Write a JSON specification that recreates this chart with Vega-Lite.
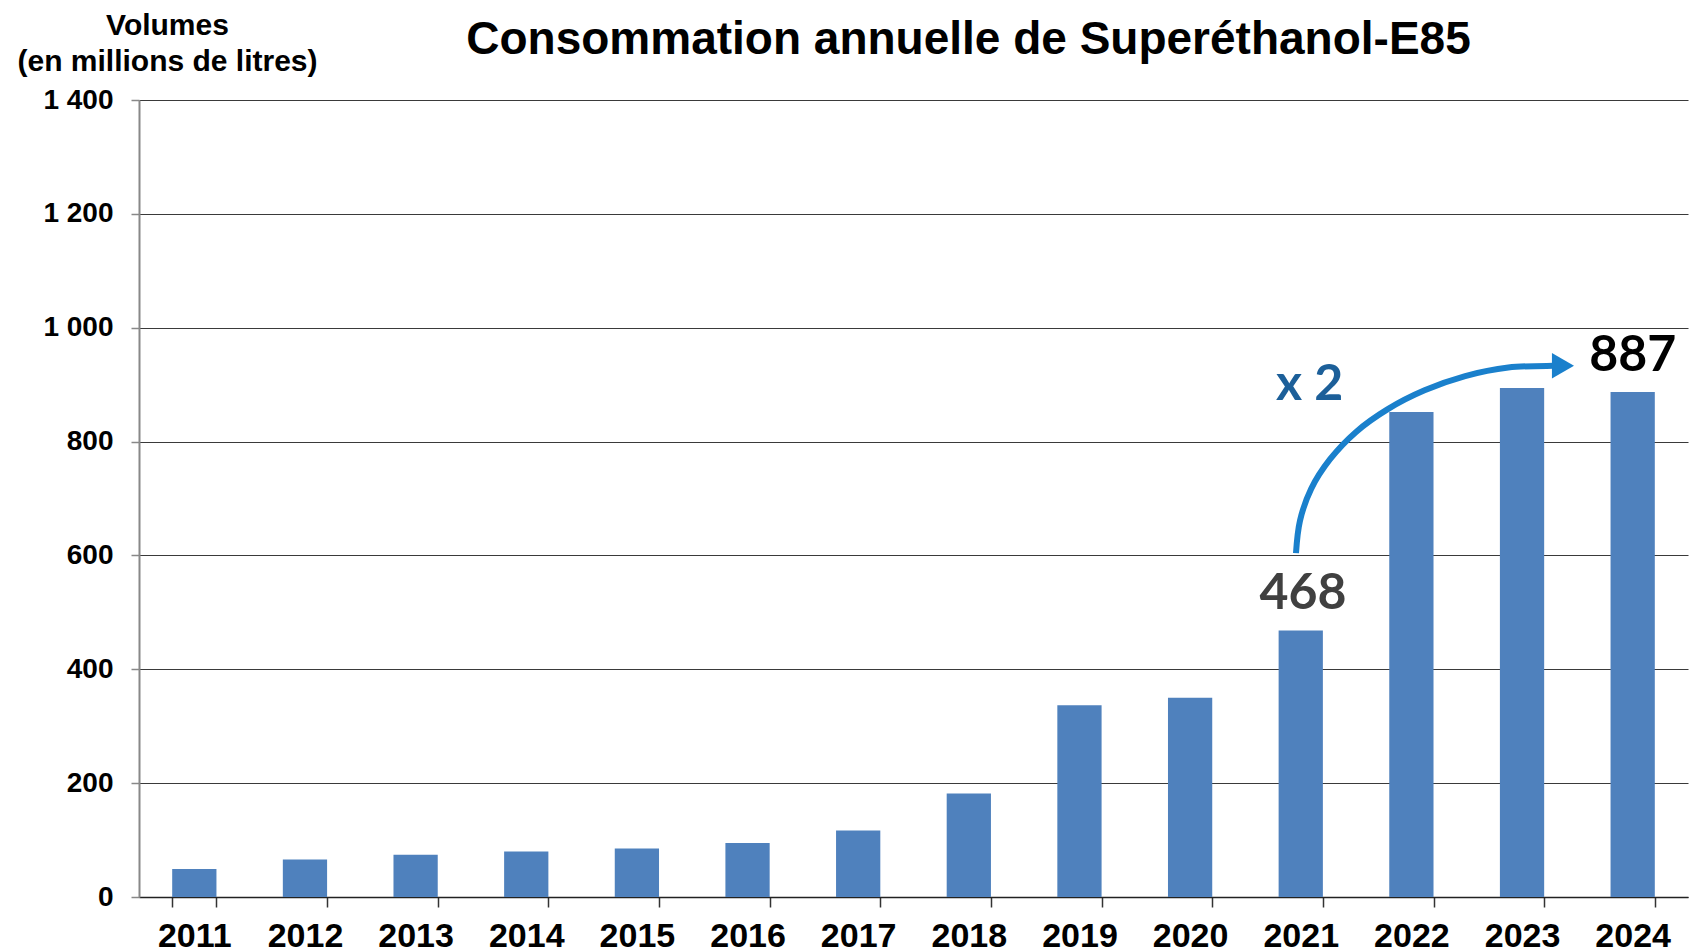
{
  "$schema": "https://vega.github.io/schema/vega-lite/v6.json",
  "width": 1549,
  "height": 797,
  "autosize": {"type": "none"},
  "padding": {"left": 139, "top": 100, "right": 3, "bottom": 55},
  "background": "white",
  "config": {"view": {"stroke": null}},
  "title": {
    "text": "Consommation annuelle de Superéthanol-E85",
    "font": "Liberation Sans",
    "fontSize": 46,
    "fontWeight": "bold",
    "color": "black",
    "anchor": "middle",
    "frame": "group",
    "dx": 55,
    "dy": 100,
    "offset": 46
  },
  "datasets": {
    "volumes": [
      {"year": "2011", "volume": 49},
      {"year": "2012", "volume": 66},
      {"year": "2013", "volume": 74},
      {"year": "2014", "volume": 80},
      {"year": "2015", "volume": 85},
      {"year": "2016", "volume": 95},
      {"year": "2017", "volume": 117},
      {"year": "2018", "volume": 182},
      {"year": "2019", "volume": 337},
      {"year": "2020", "volume": 350},
      {"year": "2021", "volume": 468},
      {"year": "2022", "volume": 852},
      {"year": "2023", "volume": 894},
      {"year": "2024", "volume": 887}
    ],
    "arrow": [
      {"step": 0, "pos": 10.457, "val": 604},
      {"step": 1, "pos": 10.493, "val": 661},
      {"step": 2, "pos": 10.594, "val": 717},
      {"step": 3, "pos": 10.765, "val": 769},
      {"step": 4, "pos": 11.0, "val": 817},
      {"step": 5, "pos": 11.287, "val": 857},
      {"step": 6, "pos": 11.619, "val": 890},
      {"step": 7, "pos": 11.986, "val": 915},
      {"step": 8, "pos": 12.376, "val": 930},
      {"step": 9, "pos": 12.78, "val": 933},
      {"step": 10, "pos": 12.85, "val": 933}
    ],
    "arrowhead": [
      {"pos": 12.87, "val": 933}
    ],
    "labels": [
      {"pos": 10.52, "val": 533, "label": "468", "kind": "value21"},
      {"pos": 13.5, "val": 950, "label": "887", "kind": "value24"},
      {"pos": 10.58, "val": 900, "label": "x 2", "kind": "factor"}
    ]
  },
  "layer": [
    {
      "data": {"name": "volumes"},
      "mark": {"type": "bar", "color": "#4f81bd"},
      "encoding": {
        "x": {
          "field": "year",
          "type": "ordinal",
          "scale": {"paddingInner": 0.6, "paddingOuter": 0.3},
          "axis": {
            "title": null,
            "labelAngle": 0,
            "labelFont": "Liberation Sans",
            "labelFontSize": 34,
            "labelFontWeight": "bold",
            "labelColor": "black",
            "labelPadding": 12,
            "tickBand": "extent",
            "tickSize": 10,
            "tickColor": "#333333",
            "tickWidth": 1.5,
            "domainColor": "#222222",
            "domainWidth": 1.5,
            "grid": false
          }
        },
        "y": {
          "field": "volume",
          "type": "quantitative",
          "scale": {"domain": [0, 1400], "nice": false},
          "axis": {
            "values": [0, 200, 400, 600, 800, 1000, 1200, 1400],
            "labelExpr": "replace(format(datum.value, ','), ',', ' ')",
            "labelFont": "Liberation Sans",
            "labelFontSize": 28,
            "labelFontWeight": "bold",
            "labelColor": "black",
            "labelPadding": 18,
            "tickSize": 8,
            "tickColor": "#888888",
            "tickWidth": 1.5,
            "domainColor": "#888888",
            "domainWidth": 2,
            "grid": true,
            "gridColor": "#3a3a3a",
            "gridWidth": 1.2,
            "title": ["Volumes", "(en millions de litres)"],
            "titleAngle": 0,
            "titleAlign": "center",
            "titleBaseline": "top",
            "titleX": 28,
            "titleY": -90,
            "titleFont": "Liberation Sans",
            "titleFontSize": 30,
            "titleFontWeight": "bold",
            "titleColor": "black",
            "titleLineHeight": 36
          }
        }
      }
    },
    {
      "data": {"name": "arrow"},
      "mark": {"type": "line", "color": "#1a80cc", "strokeWidth": 6, "interpolate": "catmull-rom"},
      "encoding": {
        "x": {"field": "pos", "type": "quantitative", "scale": {"domain": [0, 14], "nice": false, "zero": false}, "axis": null},
        "y": {"field": "val", "type": "quantitative"},
        "order": {"field": "step"}
      }
    },
    {
      "data": {"name": "arrowhead"},
      "mark": {"type": "point", "shape": "triangle-right", "filled": true, "color": "#1a80cc", "size": 650, "opacity": 1},
      "encoding": {
        "x": {"field": "pos", "type": "quantitative", "scale": {"domain": [0, 14], "nice": false, "zero": false}, "axis": null},
        "y": {"field": "val", "type": "quantitative"}
      }
    },
    {
      "data": {"name": "labels"},
      "mark": {"type": "text", "font": "Lato", "fontSize": 50, "fontWeight": "bold", "baseline": "middle", "align": "center"},
      "encoding": {
        "x": {"field": "pos", "type": "quantitative", "scale": {"domain": [0, 14], "nice": false, "zero": false}, "axis": null},
        "y": {"field": "val", "type": "quantitative"},
        "text": {"field": "label"},
        "color": {
          "field": "kind",
          "type": "nominal",
          "scale": {"domain": ["value21", "value24", "factor"], "range": ["#404040", "#000000", "#1c5f99"]},
          "legend": null
        }
      }
    }
  ],
  "resolve": {"scale": {"x": "independent"}}
}
